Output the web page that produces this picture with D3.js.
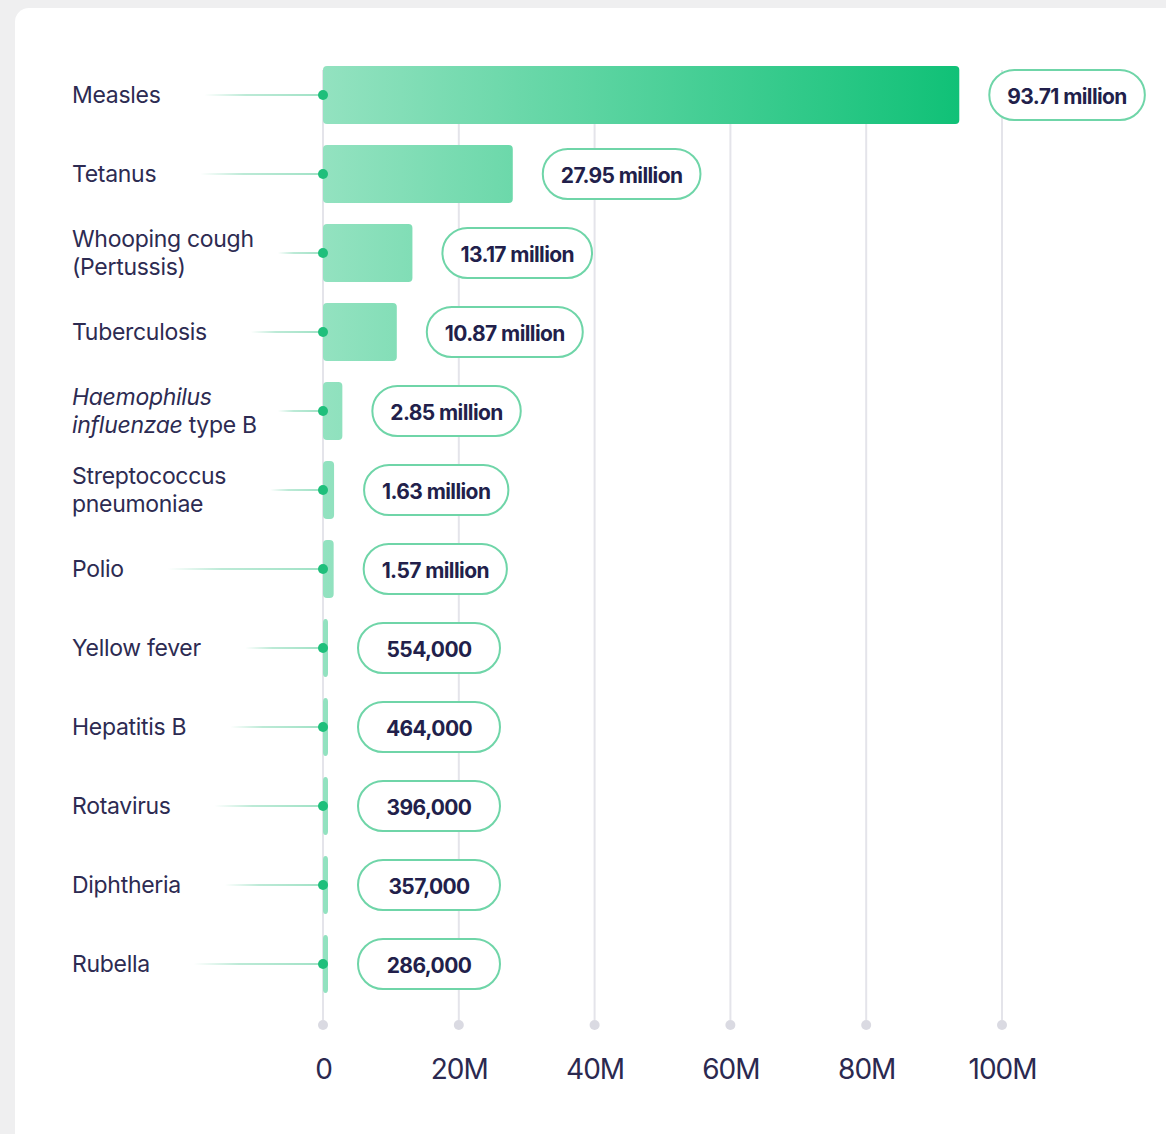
<!DOCTYPE html>
<html>
<head>
<meta charset="utf-8">
<script src="https://cdn.jsdelivr.net/npm/d3@7"></script>
<style>
  html, body { margin: 0; padding: 0; background: #efeff0; }
  svg { display: block; font-family: Inter, "Noto Sans", sans-serif; }
</style>
</head>
<body>
<svg id="chart"></svg>
<script>
// data (cases, millions)
const diseases = [
  ['Measles'],
  ['Tetanus'],
  ['Whooping cough', '(Pertussis)'],
  ['Tuberculosis'],
  ['Haemophilus', 'influenzae type B'],
  ['Streptococcus', 'pneumoniae'],
  ['Polio'],
  ['Yellow fever'],
  ['Hepatitis B'],
  ['Rotavirus'],
  ['Diphtheria'],
  ['Rubella']
];
const cases = [93.71, 27.95, 13.17, 10.87, 2.85, 1.63, 1.57, 0.554, 0.464, 0.396, 0.357, 0.286];
const caseLabels = ['93.71 million', '27.95 million', '13.17 million', '10.87 million', '2.85 million',
  '1.63 million', '1.57 million', '554,000', '464,000', '396,000', '357,000', '286,000'];
const xTicks = [0, 20, 40, 60, 80, 100];
const xTickLabels = ['0', '20M', '40M', '60M', '80M', '100M'];

const W = 1166, H = 1134;
const margin = { left: 323, right: 164 };

const svg = d3.select('#chart').attr('width', W).attr('height', H);

// card background
svg.append('rect')
  .attr('x', 15).attr('y', 8)
  .attr('width', W + 40).attr('height', H + 40)
  .attr('rx', 14)
  .attr('fill', '#ffffff');

const x = d3.scaleLinear()
  .domain([0, 100])
  .range([margin.left, W - margin.right]);

// rows are 79px apart, first centred at 95
const y = d3.scaleBand()
  .domain(d3.range(diseases.length))
  .range([55.5, 1003.5])
  .paddingInner(0.265)
  .paddingOuter(0.1325);

const defs = svg.append('defs');
const barGrad = defs.append('linearGradient')
  .attr('id', 'barGrad')
  .attr('gradientUnits', 'userSpaceOnUse')
  .attr('x1', x(0)).attr('x2', x(93.71)).attr('y1', 0).attr('y2', 0);
barGrad.append('stop').attr('offset', 0).attr('stop-color', '#93e2c0');
barGrad.append('stop').attr('offset', 1).attr('stop-color', '#10c177');

const lineGrad = defs.append('linearGradient')
  .attr('id', 'lineGrad')
  .attr('x1', 0).attr('x2', 1).attr('y1', 0).attr('y2', 0);
lineGrad.append('stop').attr('offset', 0).attr('stop-color', '#8fdcbb').attr('stop-opacity', 0);
lineGrad.append('stop').attr('offset', 0.35).attr('stop-color', '#8fdcbb').attr('stop-opacity', 0.8);
lineGrad.append('stop').attr('offset', 1).attr('stop-color', '#7fd8b2').attr('stop-opacity', 1);

// vertical gridlines with end dots
const gridTop = y(0) + 4;
const gridBottom = 1020;
const grid = svg.append('g');
grid.selectAll('line')
  .data(xTicks)
  .join('line')
  .attr('x1', d => x(d)).attr('x2', d => x(d))
  .attr('y1', gridTop).attr('y2', gridBottom)
  .attr('stroke', '#e4e4ea')
  .attr('stroke-width', 2);
grid.selectAll('circle')
  .data(xTicks)
  .join('circle')
  .attr('cx', d => x(d))
  .attr('cy', 1025)
  .attr('r', 5)
  .attr('fill', '#dadae2');

// x axis labels
const xAxis = d3.axisBottom(x)
  .tickValues(xTicks)
  .tickFormat((d, i) => xTickLabels[i])
  .tickSize(0)
  .tickPadding(0);
const xAxisG = svg.append('g')
  .attr('transform', 'translate(0,1060)')
  .call(xAxis);
xAxisG.select('.domain').remove();
xAxisG.selectAll('text')
  .attr('dy', '0.71em')
  .attr('y', -1)
  .style('font-family', 'Inter, "Noto Sans", sans-serif')
  .style('font-size', '28px')
  .style('letter-spacing', '-1px')
  .attr('fill', '#2b2950');

// rows
const rows = svg.append('g')
  .selectAll('g')
  .data(diseases.map((d, i) => ({ lines: d, value: cases[i], label: caseLabels[i], i })))
  .join('g');

const cy = d => y(d.i) + y.bandwidth() / 2;
const barW = d => Math.max(x(d.value) - x(0), 5);

// labels
const labelText = rows.append('text')
  .attr('x', 72)
  .attr('y', d => cy(d) - (d.lines.length - 1) * 14)
  .attr('fill', '#2d2b52')
  .style('font-size', '23px')
  .style('letter-spacing', '-0.3px')
  .attr('dominant-baseline', 'central');

labelText.each(function(d) {
  const t = d3.select(this);
  d.lines.forEach((ln, k) => {
    const ts = t.append('tspan')
      .attr('x', 72)
      .attr('dy', k === 0 ? 0 : 28);
    if (ln === 'Haemophilus') {
      ts.style('font-style', 'italic').text(ln);
    } else if (ln === 'influenzae type B') {
      ts.append('tspan').style('font-style', 'italic').text('influenzae');
      ts.append('tspan').text(' type B');
    } else {
      ts.text(ln);
    }
  });
});

// connector lines
rows.each(function(d) {
  const g = d3.select(this);
  const textW = g.select('text').node().getBBox().width;
  const start = Math.min(72 + textW + 44, 278);
  g.insert('line', 'text')
    .attr('x1', start).attr('x2', x(0))
    .attr('y1', cy(d)).attr('y2', cy(d) + 0.01)
    .attr('stroke', 'url(#lineGrad)')
    .attr('stroke-width', 1.6);
});

// bars
rows.append('rect')
  .attr('x', x(0))
  .attr('y', d => y(d.i))
  .attr('width', barW)
  .attr('height', y.bandwidth())
  .attr('rx', 4)
  .attr('fill', 'url(#barGrad)');

rows.append('circle')
  .attr('cx', x(0))
  .attr('cy', cy)
  .attr('r', 5)
  .attr('fill', '#1fbf7b');

// value pills
const pillH = 50;
rows.each(function(d) {
  const g = d3.select(this);
  const left = x(0) + barW(d) + 30;
  const pill = g.append('rect')
    .attr('y', cy(d) - pillH / 2)
    .attr('height', pillH)
    .attr('rx', pillH / 2)
    .attr('fill', '#ffffff')
    .attr('stroke', '#6fd5a8')
    .attr('stroke-width', 2);
  const txt = g.append('text')
    .attr('y', cy(d) + 1)
    .attr('dominant-baseline', 'central')
    .attr('text-anchor', 'middle')
    .attr('fill', '#221f4b')
    .style('font-size', '21px')
    .style('font-weight', 700)
    .style('letter-spacing', '-0.6px')
    .text(d.label);
  const tw = txt.node().getComputedTextLength();
  const pw = Math.max(tw + 36, 142);
  pill.attr('x', left).attr('width', pw);
  txt.attr('x', left + pw / 2);
});
</script>
</body>
</html>
